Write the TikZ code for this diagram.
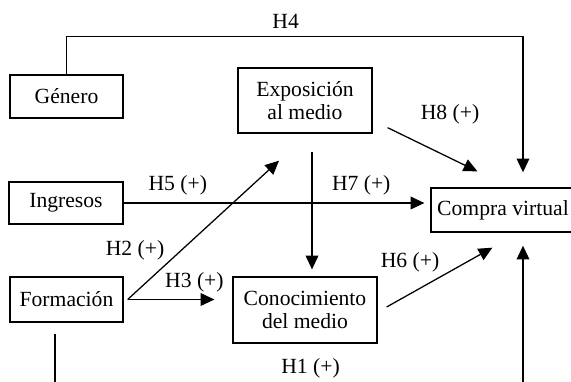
\documentclass[tikz,border=0pt]{standalone}
\usepackage{fontspec}
\setmainfont{Liberation Serif}
\usetikzlibrary{arrows.meta,calc}
\tikzset{
    box/.style={draw,line width=0.6pt,align=center,inner sep=0pt},
    arr/.style={line width=0.6pt,-{Triangle[length=6.5pt,width=6pt]}},
}
\begin{document}
\begin{tikzpicture}[x=0.4716pt,y=-0.4716pt,font=\fontsize{10.2}{11}\selectfont]
    \path[use as bounding box,clip] (0,0) rectangle (571,381);
    %% variables
    \node[box,anchor=center,minimum width=53.3pt,minimum height=20.3pt] (gen) at (66.5,96.5) {Género};
    \node[box,anchor=center,minimum width=63.2pt,minimum height=30.7pt] (expo) at (305,100.5) {Exposición\\al medio};
    \node[box,anchor=center,minimum width=53.8pt,minimum height=19.8pt] (ing) at (66,203) {Ingresos};
    \node[box,anchor=center,minimum width=53.3pt,minimum height=21.2pt] (form) at (66.5,299.5) {Formación};
    \node[box,anchor=center,minimum width=67.9pt,minimum height=31.1pt] (conoc) at (305,310) {Conocimiento\\del medio};
    \node[box,anchor=center,minimum width=67.9pt,minimum height=20.8pt] (compra) at (503,210) {Compra virtual};
    %% hypotheses
    \draw[arr] (gen.north) |- ($(compra.north)+(20,-151)$) node[pos=0.74,anchor=south] {H4}
        -- ($(compra.north)+(20,-15)$);
    \draw[arr] (ing.east) -- ($(ing.east -| compra.west)+(-6,0)$)
        node[pos=0.18,anchor=south] {H5 (+)} node[pos=0.79,anchor=south] {H7 (+)};
    \draw[arr] ($(expo.south)+(7,18)$) -- ($(conoc.north)+(7,-7)$);
    \draw[arr] ($(form.east)+(4,0)$) -- ($(expo.south)+(-26,27)$);
    \node[anchor=center] (h2) at (135,250) {H2 (+)};
    \draw[arr] ($(form.east)+(4,0)$) -- ($(form.east -| conoc.west)+(-18,0)$)
        node[pos=0.77,anchor=south] {H3 (+)};
    \draw[arr] ($(expo.south east)+(15,-6)$) -- ($(compra.north west)+(47,-16)$);
    \node[anchor=center] (h8) at (450,114) {H8 (+)};
    \draw[arr] ($(conoc.east)+(9,-3)$) -- ($(compra.south west)+(62,15)$);
    \node[anchor=center] (h6) at (410,262) {H6 (+)};
    \draw[arr] ($(form.south)+(-11.5,11)$) |- ($(compra.south)+(20,153)$) node[pos=0.773,anchor=south] {H1 (+)}
        -- ($(compra.south)+(20,13)$);
\end{tikzpicture}
\end{document}
